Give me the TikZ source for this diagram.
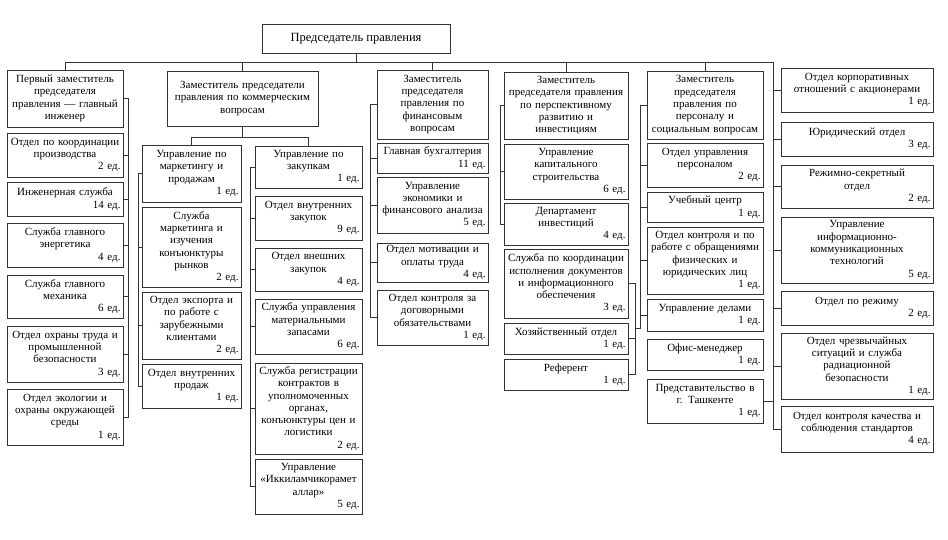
\documentclass[tikz,border=0pt]{standalone}
\usepackage{fontspec}
\setmainfont{Liberation Serif}
\usetikzlibrary{positioning}

\newcommand{\ed}[1]{\\\makebox[\hsize][r]{#1 ед.}}

\begin{document}
\begin{tikzpicture}[
    x=1pt, y=-1pt,
    line width=0.7pt,
    box/.style={
		rectangle,
		draw=black!80,
		align=center,
		inner xsep=2.5pt,
		inner ysep=1pt,
		font=\fontsize{11}{12.3}\selectfont,
		fill=white
	},
	head/.style={
		box,
		minimum width=188pt,
		minimum height=29pt,
		font=\fontsize{12.5}{14}\selectfont
	},
	wfirst/.style={text width=111pt},
	wcom/.style={text width=146pt},
	wmark/.style={text width=94pt},
	wbuy/.style={text width=102pt},
	wfin/.style={text width=106pt},
	wdev/.style={text width=119pt},
	wstaff/.style={text width=111pt},
	wright/.style={text width=147pt},
	link/.style={draw=black!80, line width=0.7pt}
  ]

\useasboundingbox (0,0) rectangle (948,540);

 \node [head] (chair) at (356,38.5) {Председатель правления};

% // first deputy column
 \node [box, wfirst, minimum height=57pt] (eng0) at (65,98.5)
 {Первый заместитель\\председателя\\правления — главный\\инженер};
 \node [box, wfirst, minimum height=44pt] (eng1) at (65,155)
 {Отдел по координации\\производства\ed{2}};
 \node [box, wfirst, minimum height=34pt] (eng2) at (65,199)
 {Инженерная служба\ed{14}};
 \node [box, wfirst, minimum height=44pt] (eng3) at (65,245)
 {Служба главного\\энергетика\ed{4}};
 \node [box, wfirst, minimum height=43pt] (eng4) at (65,296.5)
 {Служба главного\\механика\ed{6}};
 \node [box, wfirst, minimum height=56pt] (eng5) at (65,354)
 {Отдел охраны труда и\\промышленной\\безопасности\ed{3}};
 \node [box, wfirst, minimum height=56pt] (eng6) at (65,417)
 {Отдел экологии и\\охраны окружающей\\среды\ed{1}};

% // commercial deputy
 \node [box, wcom, minimum height=55pt] (com0) at (242.5,98.5)
 {Заместитель председатели\\правления по коммерческим\\вопросам};

 \node [box, wmark, minimum height=57pt] (mark1) at (191.5,173.5)
 {Управление по\\маркетингу и\\продажам\ed{1}};
 \node [box, wmark, minimum height=80pt] (mark2) at (191.5,247)
 {Служба\\маркетинга и\\изучения\\конъюнктуры\\рынков\ed{2}};
 \node [box, wmark, minimum height=67pt] (mark3) at (191.5,325.5)
 {Отдел экспорта и\\по работе с\\зарубежными\\клиентами\ed{2}};
 \node [box, wmark, minimum height=44pt] (mark4) at (191.5,386)
 {Отдел внутренних\\продаж\ed{1}};

 \node [box, wbuy, minimum height=42pt] (buy1) at (308.5,167)
 {Управление по\\закупкам\ed{1}};
 \node [box, wbuy, minimum height=44pt] (buy2) at (308.5,218)
 {Отдел внутренних\\закупок\ed{9}};
 \node [box, wbuy, minimum height=43pt] (buy3) at (308.5,269.5)
 {Отдел внешних\\закупок\ed{4}};
 \node [box, wbuy, minimum height=55pt] (buy4) at (308.5,326.5)
 {Служба управления\\материальными\\запасами\ed{6}};
 \node [box, wbuy, minimum height=91pt] (buy5) at (308.5,408.5)
 {Служба регистрации\\контрактов в\\уполномоченных\\органах,\\конъюнктуры цен и\\логистики\ed{2}};
 \node [box, wbuy, minimum height=55pt] (buy6) at (308.5,486.5)
 {Управление\\«Иккиламчикорамет\\аллар»\ed{5}};

% // finance deputy
 \node [box, wfin, minimum height=69pt] (fin0) at (432.5,104.5)
 {Заместитель\\председателя\\правления по\\финансовым\\вопросам};
 \node [box, wfin, minimum height=30pt] (fin1) at (432.5,158)
 {Главная бухгалтерия\ed{11}};
 \node [box, wfin, minimum height=56pt] (fin2) at (432.5,205)
 {Управление\\экономики и\\финансового анализа\ed{5}};
 \node [box, wfin, minimum height=39pt] (fin3) at (432.5,262.5)
 {Отдел мотивации и\\оплаты труда\ed{4}};
 \node [box, wfin, minimum height=55pt] (fin4) at (432.5,317.5)
 {Отдел контроля за\\договорными\\обязательствами\ed{1}};

% // development deputy
 \node [box, wdev, minimum height=67pt] (dev0) at (566,105.5)
 {Заместитель\\председателя правления\\по перспективному\\развитию и\\инвестициям};
 \node [box, wdev, minimum height=55pt] (dev1) at (566,171.5)
 {Управление\\капитального\\строительства\ed{6}};
 \node [box, wdev, minimum height=42pt] (dev2) at (566,224)
 {Департамент\\инвестиций\ed{4}};
 \node [box, wdev, minimum height=69pt] (dev3) at (566,283.5)
 {Служба по координации\\исполнения документов\\и информационного\\обеспечения\ed{3}};
 \node [box, wdev, minimum height=31pt] (dev4) at (566,338.5)
 {Хозяйственный отдел\ed{1}};
 \node [box, wdev, minimum height=31pt] (dev5) at (566,374.5)
 {Референт\ed{1}};

% // staff deputy
 \node [box, wstaff, minimum height=68pt] (staff0) at (705,105)
 {Заместитель\\председателя\\правления по\\персоналу и\\социальным вопросам};
 \node [box, wstaff, minimum height=44pt] (staff1) at (705,165)
 {Отдел управления\\персоналом\ed{2}};
 \node [box, wstaff, minimum height=30pt] (staff2) at (705,207)
 {Учебный центр\ed{1}};
 \node [box, wstaff, minimum height=67pt] (staff3) at (705,260.5)
 {Отдел контроля и по\\работе с обращениями\\физических и\\юридических лиц\ed{1}};
 \node [box, wstaff, minimum height=32pt] (staff4) at (705,315)
 {Управление делами\ed{1}};
 \node [box, wstaff, minimum height=31pt] (staff5) at (705,354.5)
 {Офис-менеджер\ed{1}};
 \node [box, wstaff, minimum height=44pt] (staff6) at (705,401)
 {Представительство в\\г. Ташкенте\ed{1}};

% // direct units
 \node [box, wright, minimum height=44pt] (dir1) at (857,90)
 {Отдел корпоративных\\отношений с акционерами\ed{1}};
 \node [box, wright, minimum height=34pt] (dir2) at (857,139)
 {Юридический отдел\ed{3}};
 \node [box, wright, minimum height=43pt] (dir3) at (857,186.5)
 {Режимно-секретный\\отдел\ed{2}};
 \node [box, wright, minimum height=66pt] (dir4) at (857,250)
 {Управление\\информационно-\\коммуникационных\\технологий\ed{5}};
 \node [box, wright, minimum height=34pt] (dir5) at (857,308)
 {Отдел по режиму\ed{2}};
 \node [box, wright, minimum height=66pt] (dir6) at (857,366)
 {Отдел чрезвычайных\\ситуаций и служба\\радиационной\\безопасности\ed{1}};
 \node [box, wright, minimum height=46pt] (dir7) at (857,429)
 {Отдел контроля качества и\\соблюдения стандартов\ed{4}};

% spines
 \coordinate (bus) at (0,62);
 \coordinate (sfirst) at (128,0);
 \coordinate (scom) at (0,137);
 \coordinate (smark) at (138,0);
 \coordinate (sbuy) at (250,0);
 \coordinate (sfin) at (370,0);
 \coordinate (sdev) at (500,0);
 \coordinate (sdevr) at (635,0);
 \coordinate (sstaff) at (640,0);
 \coordinate (sjoin) at (0,328);
 \coordinate (sdir) at (773,0);

% // top bus
 \draw [link] (chair.south) -- (chair.south |- bus);
 \draw [link] (eng0.north |- bus) -- (sdir |- bus) -- (dir7.west -| sdir) -- (dir7.west);
 \draw [link] (eng0.north |- bus) -- (eng0.north);
 \draw [link] (com0.north |- bus) -- (com0.north);
 \draw [link] (fin0.north |- bus) -- (fin0.north);
 \draw [link] (dev0.north |- bus) -- (dev0.north);
 \draw [link] (staff0.north |- bus) -- (staff0.north);

% // first deputy
 \draw [link] (eng0.east) -- (eng0.east -| sfirst) -- (eng6.east -| sfirst) -- (eng6.east);
 \draw [link] (eng1.east) -- (eng1.east -| sfirst);
 \draw [link] (eng2.east) -- (eng2.east -| sfirst);
 \draw [link] (eng3.east) -- (eng3.east -| sfirst);
 \draw [link] (eng4.east) -- (eng4.east -| sfirst);
 \draw [link] (eng5.east) -- (eng5.east -| sfirst);

% // commercial
 \draw [link] (com0.south) -- (com0.south |- scom);
 \draw [link] (mark1.north |- scom) -- (buy1.north |- scom);
 \draw [link] (mark1.north |- scom) -- (mark1.north);
 \draw [link] (buy1.north |- scom) -- (buy1.north);
 \draw [link] (mark1.west) -- (mark1.west -| smark) -- (mark4.west -| smark) -- (mark4.west);
 \draw [link] (mark2.west) -- (mark2.west -| smark);
 \draw [link] (mark3.west) -- (mark3.west -| smark);
 \draw [link] (buy1.west) -- (buy1.west -| sbuy) -- (buy6.west -| sbuy) -- (buy6.west);
 \draw [link] (buy2.west) -- (buy2.west -| sbuy);
 \draw [link] (buy3.west) -- (buy3.west -| sbuy);
 \draw [link] (buy4.west) -- (buy4.west -| sbuy);
 \draw [link] (buy5.west) -- (buy5.west -| sbuy);

% // finance
 \draw [link] (fin0.west) -- (fin0.west -| sfin) -- (fin4.west -| sfin) -- (fin4.west);
 \draw [link] (fin1.west) -- (fin1.west -| sfin);
 \draw [link] (fin2.west) -- (fin2.west -| sfin);
 \draw [link] (fin3.west) -- (fin3.west -| sfin);

% // development
 \draw [link] (dev0.west) -- (dev0.west -| sdev) -- (dev2.west -| sdev) -- (dev2.west);
 \draw [link] (dev1.west) -- (dev1.west -| sdev);
 \draw [link] (dev3.east) -- (dev3.east -| sdevr) -- (dev5.east -| sdevr) -- (dev5.east);
 \draw [link] (dev4.east) -- (dev4.east -| sdevr);

% // staff
 \draw [link] (staff0.west) -- (staff0.west -| sstaff) -- (sjoin -| sstaff) -- (sjoin -| sdevr);
 \draw [link] (staff1.west) -- (staff1.west -| sstaff);
 \draw [link] (staff2.west) -- (staff2.west -| sstaff);
 \draw [link] (staff3.west) -- (staff3.west -| sstaff);
 \draw [link] (staff4.west) -- (staff4.west -| sstaff);
 \draw [link] (staff6.east) -- (staff6.east -| sdir);

% // direct units
 \draw [link] (dir1.west -| sdir) -- (dir1.west);
 \draw [link] (dir2.west -| sdir) -- (dir2.west);
 \draw [link] (dir3.west -| sdir) -- (dir3.west);
 \draw [link] (dir4.west -| sdir) -- (dir4.west);
 \draw [link] (dir5.west -| sdir) -- (dir5.west);
 \draw [link] (dir6.west -| sdir) -- (dir6.west);

\end{tikzpicture}
\end{document}
